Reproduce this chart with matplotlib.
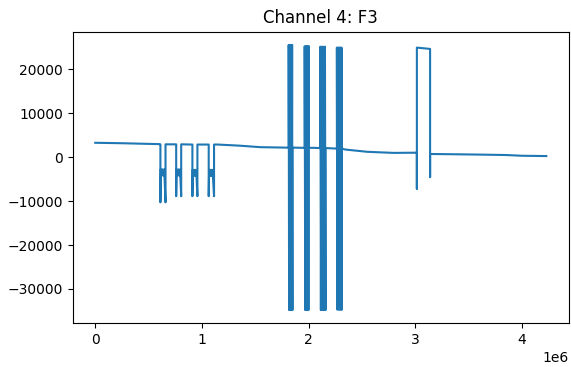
import numpy as np
import matplotlib
matplotlib.use("Agg")
import matplotlib.pyplot as plt

title = "Channel 4: F3"

# slow baseline drift (sample index in millions, amplitude)
drift_x = [0.0, 0.25, 0.50, 0.60, 1.15, 1.35, 1.55, 1.80, 2.05, 2.25, 2.35,
           2.55, 2.80, 3.01, 3.15, 3.50, 3.85, 4.00, 4.23]
drift_y = [3250, 3150, 3000, 2950, 2850, 2600, 2250, 2150, 2100, 1950, 1700,
           1200, 950, 1000, 700, 600, 470, 300, 230]

# negative dip pairs
dip_left = [0.611, 0.759, 0.911, 1.064]
dip_right = [0.659, 0.806, 0.958, 1.114]
dip_low = [-10300, -8900, -8900, -8900]
dip_mid = [-3500, -3500, -3600, -3600]
dip_top = [2900, 2900, 2850, 2850]

# saturated bursts (oscillation vertices)
burst_x = [
    [1.814, 1.818, 1.822, 1.826, 1.830, 1.834, 1.838, 1.842, 1.846, 1.849],
    [1.964, 1.969, 1.974, 1.979, 1.984, 1.989, 1.994, 1.999, 2.004],
    [2.111, 2.116, 2.122, 2.127, 2.133, 2.138, 2.144, 2.149, 2.154, 2.159],
    [2.266, 2.271, 2.277, 2.282, 2.288, 2.293, 2.298, 2.304, 2.309, 2.313],
]
burst_high = [25500, 25200, 25100, 24900]
burst_low = [-34800, -34800, -34800, -34700]
burst_base = [2150, 2100, 2050, 1900]

# rectangular pulse
pulse_x = [3.016, 3.016, 3.016, 3.140, 3.140, 3.140]
pulse_y = [1100, -7200, 24900, 24600, -4560, 750]

# assemble the trace in order
pts = [(x, y) for x, y in zip(drift_x, drift_y)]
for L, R, lo, mid, top in zip(dip_left, dip_right, dip_low, dip_mid, dip_top):
    pts += [(L, top), (L, lo), (L + 0.004, mid + 700), (L + 0.012, mid - 700),
            (L + 0.020, mid + 700), (L + 0.028, mid - 700), (L + 0.036, mid + 700),
            (R, lo), (R, top)]
for bx, hi, lo, base in zip(burst_x, burst_high, burst_low, burst_base):
    pts.append((bx[0], base))
    for i, x in enumerate(bx):
        pts.append((x, hi if i % 2 == 0 else lo))
    pts.append((bx[-1], base))
pts += list(zip(pulse_x, pulse_y))

order = sorted(range(len(pts)), key=lambda i: pts[i][0])
xs = np.array([pts[i][0] for i in order]) * 1e6
ys = np.array([pts[i][1] for i in order])

fig = plt.figure(figsize=(5.71, 3.67), dpi=100)
ax = fig.add_axes([0.1273, 0.119, 0.869, 0.7946])
ax.plot(xs, ys, color="#1f77b4", linewidth=1.5)
ax.set_title(title)
fig.savefig("out.png", dpi=100)
